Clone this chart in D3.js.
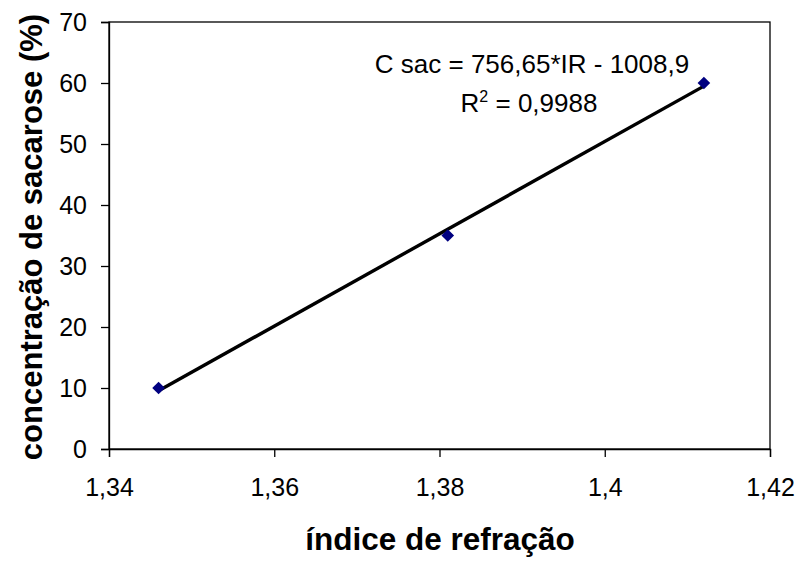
<!DOCTYPE html>
<html><head><meta charset="utf-8">
<script src="https://cdn.jsdelivr.net/npm/d3@7"></script>
<style>body{margin:0;background:#fff}svg{display:block}text{font-family:"Liberation Sans",Arial,sans-serif}</style>
</head><body><svg id="c" width="801" height="561"></svg>
<script>
const refIndex = [1.346, 1.381, 1.412];
const sucrose = [10, 35, 60];
const xTicks = [1.34, 1.36, 1.38, 1.40, 1.42];
const yTicks = [0, 10, 20, 30, 40, 50, 60, 70];
const slope = 756.65, intercept = -1008.9;

const svg = d3.select("#c");
const m = {l:109, r:770, t:22, b:449};
const x = d3.scaleLinear().domain([1.34, 1.42]).range([m.l, m.r]);
const y = d3.scaleLinear().domain([0, 70]).range([m.b, m.t]);
const fmt = v => String(+v.toFixed(2)).replace(".", ",");

svg.append("rect").attr("x", m.l).attr("y", m.t).attr("width", m.r-m.l).attr("height", m.b-m.t)
  .attr("fill","none").attr("stroke","#000").attr("stroke-width",1.3);

const ax = svg.append("g").attr("transform",`translate(0,${m.b})`)
  .call(d3.axisBottom(x).tickValues(xTicks).tickFormat(fmt).tickSize(8).tickPadding(21));
const ay = svg.append("g").attr("transform",`translate(${m.l},0)`)
  .call(d3.axisLeft(y).tickValues(yTicks).tickFormat(d=>d).tickSize(8).tickPadding(14));
[ax, ay].forEach(g=>{
  g.select(".domain").attr("stroke","#000").attr("stroke-width",1.3);
  g.selectAll(".tick line").attr("stroke","#000").attr("stroke-width",1.3);
  g.selectAll(".tick text").attr("font-size",25).attr("fill","#000")
   .style("font-family",'"Liberation Sans",Arial,sans-serif');
});

const x0 = d3.min(refIndex), x1 = d3.max(refIndex);
svg.append("line").attr("x1",x(x0)).attr("y1",y(slope*x0+intercept))
  .attr("x2",x(x1)).attr("y2",y(slope*x1+intercept))
  .attr("stroke","#000").attr("stroke-width",3.4);

svg.selectAll(".pt").data(refIndex.map((v,i)=>[v,sucrose[i]])).enter()
  .append("path").attr("d", d3.symbol(d3.symbolSquare, 80))
  .attr("transform", d=>`translate(${x(d[0])},${y(d[1])}) rotate(45)`)
  .attr("fill","#000080");

svg.append("text").attr("x",532).attr("y",73).attr("text-anchor","middle").attr("font-size",26)
  .text("C sac = 756,65*IR - 1008,9");
const r2 = svg.append("text").attr("x",529).attr("y",112).attr("text-anchor","middle").attr("font-size",26);
r2.append("tspan").text("R");
r2.append("tspan").attr("font-size",16).attr("dy",-10).text("2");
r2.append("tspan").attr("dy",10).text(" = 0,9988");

svg.append("text").attr("x",440).attr("y",550).attr("text-anchor","middle").attr("font-size",31.5)
  .attr("font-weight","bold").text("índice de refração");
svg.append("text").attr("transform","translate(42,237) rotate(-90)").attr("text-anchor","middle")
  .attr("font-size",31).attr("font-weight","bold").text("concentração de sacarose (%)");
</script></body></html>
